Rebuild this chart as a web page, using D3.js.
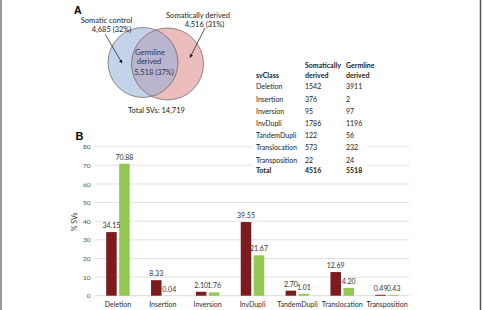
<!DOCTYPE html>
<html><head><meta charset="utf-8">
<script src="https://cdn.jsdelivr.net/npm/d3@7"></script>
<style>html,body{margin:0;padding:0;background:#fff;}svg{display:block;font-family:Lato,"Open Sans",sans-serif;}</style>
</head><body>
<svg id="c" width="483" height="310"></svg>
<script>
const categories = ["Deletion","Insertion","Inversion","InvDupli","TandemDupli","Translocation","Transposition"];
const somaticPct = [34.15, 8.33, 2.10, 39.55, 2.70, 12.69, 0.49];
const germlinePct = [70.88, 0.04, 1.76, 21.67, 1.01, 4.20, 0.43];
const somaticCounts = [1542, 376, 95, 1786, 122, 573, 22];
const germlineCounts = [3911, 2, 97, 1196, 56, 232, 24];
const totals = [4516, 5518];
const yTicks = [0,10,20,30,40,50,60,70,80];
const vennSets = [
  {name:"Somatic control", count:"4,685 (32%)"},
  {name:"Somatically derived", count:"4,516 (31%)"},
  {name:"Germline derived", count:"5,518 (37%)"}
];
const totalLabel = "Total SVs: 14,719";

const svg = d3.select("#c");
const RED = "#7D1A1D", GREEN = "#92C851";

// border
svg.append("line").attr("x1",1).attr("x2",1).attr("y1",0).attr("y2",310).attr("stroke","#9a9a9a").attr("stroke-width",2);
svg.append("line").attr("x1",480.5).attr("x2",480.5).attr("y1",0).attr("y2",310).attr("stroke","#555").attr("stroke-width",1.5);

// ---------- Panel B ----------
const x = d3.scaleBand().domain(categories).range([95.5, 409.5]);
const y = d3.scaleLinear().domain([0,80]).range([295.7,146.7]);

const g = svg.append("g");
g.selectAll("line.grid").data(yTicks.filter(d=>d>0)).join("line")
  .attr("x1",95.5).attr("x2",409.5).attr("y1",d=>y(d)).attr("y2",d=>y(d))
  .attr("stroke","#d9d9d9").attr("stroke-width",0.8);
g.append("line").attr("x1",95.5).attr("x2",409.5).attr("y1",y(0)).attr("y2",y(0)).attr("stroke","#d0d0d0").attr("stroke-width",0.8);

const yAxis = d3.axisLeft(y).tickValues(yTicks).tickSize(0).tickPadding(5);
const ya = g.append("g").attr("transform","translate(95.5,0)").call(yAxis);
ya.select(".domain").remove();
ya.selectAll("text").attr("font-size",6.5).attr("fill","#505050").attr("font-family","Lato,sans-serif");

const xAxis = d3.axisBottom(x).tickSize(0).tickPadding(6);
const xa = g.append("g").attr("transform",`translate(0,${y(0)})`).call(xAxis);
xa.select(".domain").remove();
xa.selectAll("text").attr("font-size",7).attr("fill","#2a2a2a").attr("font-family","Lato,sans-serif");

const bw = 10.5, gap = 1.25;
const cx = d => x(d) + x.bandwidth()/2;
g.selectAll("rect.s").data(categories).join("rect")
  .attr("x",(d)=>cx(d)-gap-bw).attr("width",bw)
  .attr("y",(d,i)=>y(somaticPct[i])).attr("height",(d,i)=>y(0)-y(somaticPct[i])).attr("fill",RED);
g.selectAll("rect.g").data(categories).join("rect")
  .attr("x",(d)=>cx(d)+gap).attr("width",bw)
  .attr("y",(d,i)=>y(germlinePct[i])).attr("height",(d,i)=>y(0)-y(germlinePct[i])).attr("fill",GREEN);
g.selectAll("text.sl").data(categories).join("text")
  .attr("x",d=>cx(d)-gap-bw/2).attr("y",(d,i)=>y(somaticPct[i])-4)
  .attr("text-anchor","middle").attr("font-size",7).attr("fill","#333")
  .text((d,i)=>somaticPct[i].toFixed(2));
g.selectAll("text.gl").data(categories).join("text")
  .attr("x",d=>cx(d)+gap+bw/2).attr("y",(d,i)=>y(germlinePct[i])-4)
  .attr("text-anchor","middle").attr("font-size",7).attr("fill","#333")
  .text((d,i)=>germlinePct[i].toFixed(2));

svg.append("text").attr("transform","translate(77,222) rotate(-90)").attr("text-anchor","middle")
  .attr("font-size",7).attr("fill","#333").text("% SVs");
svg.append("text").attr("x",75.5).attr("y",139.5).attr("font-size",11).attr("font-weight","bold")
  .attr("font-family","Arial,'Liberation Sans',sans-serif").text("B");

// ---------- Table ----------
svg.append("rect").attr("x",253).attr("y",57).attr("width",116).attr("height",121).attr("fill","#fff");
const tcol = [256, 305, 346];
const tg = svg.append("g").attr("font-size",7).attr("fill","#222");
tg.append("text").attr("x",tcol[1]).attr("y",67.5).attr("font-weight","bold").text("Somatically");
tg.append("text").attr("x",tcol[2]).attr("y",67.5).attr("font-weight","bold").text("Germline");
tg.append("text").attr("x",tcol[0]).attr("y",77.5).attr("font-weight","bold").text("svClass");
tg.append("text").attr("x",tcol[1]).attr("y",77.5).attr("font-weight","bold").text("derived");
tg.append("text").attr("x",tcol[2]).attr("y",77.5).attr("font-weight","bold").text("derived");
const rowY = i => 89.3 + i*12.2;
categories.forEach((c,i)=>{
  tg.append("text").attr("x",tcol[0]).attr("y",rowY(i)).text(c);
  tg.append("text").attr("x",tcol[1]).attr("y",rowY(i)).text(somaticCounts[i]);
  tg.append("text").attr("x",tcol[2]).attr("y",rowY(i)).text(germlineCounts[i]);
});
const ty = rowY(categories.length)-1.5;
tg.append("text").attr("x",tcol[0]).attr("y",ty).attr("font-weight","bold").text("Total");
tg.append("text").attr("x",tcol[1]).attr("y",ty).attr("font-weight","bold").text(totals[0]);
tg.append("text").attr("x",tcol[2]).attr("y",ty).attr("font-weight","bold").text(totals[1]);

// ---------- Panel A: Venn ----------
const circles = [{cx:143, cy:62.5, r:35, fill:"#C3D4EA"},{cx:167.5, cy:64, r:36, fill:"#EBBDBC"}];
const defs = svg.append("defs");
defs.append("clipPath").attr("id","clipB").append("circle").attr("cx",circles[0].cx).attr("cy",circles[0].cy).attr("r",circles[0].r);
svg.append("circle").attr("cx",circles[0].cx).attr("cy",circles[0].cy).attr("r",circles[0].r).attr("fill",circles[0].fill);
svg.append("circle").attr("cx",circles[1].cx).attr("cy",circles[1].cy).attr("r",circles[1].r).attr("fill",circles[1].fill);
svg.append("circle").attr("cx",circles[1].cx).attr("cy",circles[1].cy).attr("r",circles[1].r).attr("fill","#BAB5CE").attr("clip-path","url(#clipB)");
circles.forEach(c=>svg.append("circle").attr("cx",c.cx).attr("cy",c.cy).attr("r",c.r).attr("fill","none").attr("stroke","#6b5a5a").attr("stroke-width",0.7));

const va = svg.append("g").attr("font-size",7.5).attr("fill","#222");
va.append("text").attr("x",106.5).attr("y",22.5).attr("text-anchor","middle").text(vennSets[0].name);
va.append("text").attr("x",111.5).attr("y",32).attr("text-anchor","middle").text(vennSets[0].count);
va.append("text").attr("x",198).attr("y",17.5).attr("text-anchor","middle").text(vennSets[1].name);
va.append("text").attr("x",204.5).attr("y",27).attr("text-anchor","middle").text(vennSets[1].count);
va.append("text").attr("x",150).attr("y",54.5).attr("text-anchor","middle").attr("fill","#33334d").text("Germline");
va.append("text").attr("x",149).attr("y",64).attr("text-anchor","middle").attr("fill","#33334d").text("derived");
va.append("text").attr("x",154).attr("y",74.5).attr("text-anchor","middle").attr("fill","#33334d").text(vennSets[2].count);
va.append("text").attr("x",156.5).attr("y",112.5).attr("text-anchor","middle").text(totalLabel);

defs.append("marker").attr("id","ah").attr("viewBox","0 0 10 10").attr("refX",9).attr("refY",5)
  .attr("markerWidth",5).attr("markerHeight",5).attr("orient","auto")
  .append("path").attr("d","M0,0L10,5L0,10z").attr("fill","#111");
svg.append("line").attr("x1",105).attr("y1",34).attr("x2",122).attr("y2",63).attr("stroke","#111").attr("stroke-width",0.7).attr("marker-end","url(#ah)");
svg.append("line").attr("x1",205).attr("y1",28).attr("x2",190).attr("y2",57.5).attr("stroke","#111").attr("stroke-width",0.7).attr("marker-end","url(#ah)");

svg.append("text").attr("x",74).attr("y",14).attr("font-size",10.5).attr("font-weight","bold")
  .attr("font-family","Arial,'Liberation Sans',sans-serif").text("A");
</script>
</body></html>
